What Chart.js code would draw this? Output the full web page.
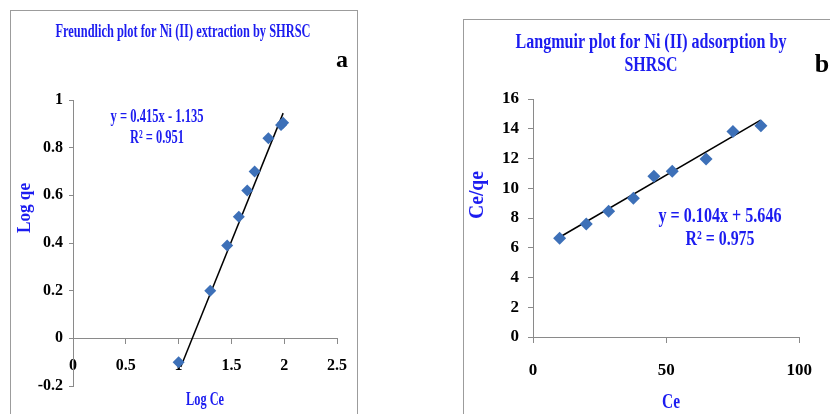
<!DOCTYPE html>
<html>
<head>
<meta charset="utf-8">
<script src="https://cdn.jsdelivr.net/npm/chart.js@4.4.1/dist/chart.umd.min.js"></script>
<style>
  body { margin: 0; background: #fff; width: 830px; height: 414px; overflow: hidden; position: relative; }
  .panel { position: absolute; border: 1px solid #9c9c9c; background: #fff; }
  canvas { position: absolute; top: 0; }
</style>
</head>
<body>
<div class="panel" style="left:10px; top:10px; width:346px; height:420px;"></div>
<div class="panel" style="left:463px; top:19px; width:400px; height:420px;"></div>
<canvas id="freundlichChart" width="360" height="414" style="left:0"></canvas>
<canvas id="langmuirChart" width="370" height="414" style="left:460px"></canvas>
<script>
// Freundlich data (panel a)
const freundLogCe = [1.0, 1.30, 1.46, 1.57, 1.65, 1.72, 1.85, 1.97, 1.99];
const freundLogQe = [-0.10, 0.20, 0.39, 0.51, 0.62, 0.70, 0.84, 0.895, 0.905];
const freundTrendX = [1.02, 1.99];
const freundTrendY = [-0.12, 0.945];

// Langmuir data (panel b)
const langCe = [10, 20, 28.4, 37.7, 45.4, 52.3, 65, 75.1, 85.6];
const langCeQe = [6.64, 7.6, 8.46, 9.33, 10.8, 11.15, 11.96, 13.82, 14.2];
const langTrendX = [9.8, 85.5];
const langTrendY = [6.69, 14.58];

const SERIF = '"Liberation Serif", "Times New Roman", serif';
const BLUE = '#1c1cf0';
const MARKER = '#3d70b8';
const AXIS = '#8a8a8a';

// draws titles, equations and axis names (squeezed to width like the original)
const textLabels = {
    id: 'textLabels',
    afterDraw(chart, args, opts) {
        const ctx = chart.ctx;
        (opts.items || []).forEach(it => {
            ctx.save();
            ctx.font = `bold ${it.size}px ${SERIF}`;
            ctx.fillStyle = it.color || BLUE;
            ctx.textAlign = 'center';
            ctx.textBaseline = 'middle';
            ctx.translate(it.x, it.y);
            if (it.rotate) ctx.rotate(it.rotate);
            if (it.maxWidth) ctx.fillText(it.text, 0, 0, it.maxWidth);
            else ctx.fillText(it.text, 0, 0);
            ctx.restore();
        });
    }
};

function toPoints(xs, ys) {
    return xs.map((x, i) => ({ x: x, y: ys[i] }));
}

// Excel style labels: 1, 0.8, 0, -0.2 ...
function shortNum(value) {
    const v = Math.round(value * 10) / 10;
    return (v === 0 ? 0 : v).toString();
}

function axisStyle(fontSize, tickLength, padding) {
    return {
        grid: { display: true, drawOnChartArea: false, drawTicks: true, tickLength: tickLength, color: AXIS },
        border: { display: true, color: AXIS, width: 1 },
        ticks: { color: '#000', padding: padding, callback: shortNum, font: { family: SERIF, size: fontSize, weight: 'bold' } }
    };
}

function makeChart(canvasId, cfg) {
    const ctx = document.getElementById(canvasId);
    const yStyle = axisStyle(cfg.fontSize, cfg.yTick, cfg.yPad);
    const xStyle = axisStyle(cfg.fontSize, 5, cfg.xPad);
    return new Chart(ctx, {
        type: 'scatter',
        data: {
            datasets: [{
                data: toPoints(cfg.xs, cfg.ys),
                pointStyle: 'rectRot',
                pointRadius: cfg.radius,
                backgroundColor: MARKER,
                borderColor: MARKER,
                borderWidth: 0
            }, {
                type: 'line',
                data: toPoints(cfg.trendX, cfg.trendY),
                borderColor: '#000',
                borderWidth: 1.5,
                pointRadius: 0,
                fill: false
            }]
        },
        options: {
            responsive: false,
            animation: false,
            devicePixelRatio: 1,
            layout: { padding: cfg.padding },
            plugins: {
                legend: { display: false },
                tooltip: { enabled: false },
                textLabels: { items: cfg.labels }
            },
            scales: {
                x: {
                    type: 'linear',
                    position: { y: 0 },
                    min: cfg.xMin, max: cfg.xMax,
                    grid: xStyle.grid, border: xStyle.border,
                    ticks: { ...xStyle.ticks, stepSize: cfg.xStep }
                },
                y: {
                    type: 'linear',
                    position: 'left',
                    min: cfg.yMin, max: cfg.yMax,
                    afterFit: scale => { scale.width = cfg.yWidth; },
                    grid: yStyle.grid, border: yStyle.border,
                    ticks: { ...yStyle.ticks, stepSize: cfg.yStep }
                }
            }
        },
        plugins: [textLabels]
    });
}

makeChart('freundlichChart', {
    xs: freundLogCe, ys: freundLogQe,
    trendX: freundTrendX, trendY: freundTrendY,
    xMin: 0, xMax: 2.5, xStep: 0.5,
    yMin: -0.2, yMax: 1, yStep: 0.2,
    radius: 6, fontSize: 16,
    yTick: 4, yPad: 6, xPad: 13, yWidth: 73,
    padding: { top: 100, bottom: 28, right: 22, left: 0 },
    labels: [
        { text: 'Freundlich plot for Ni (II) extraction by SHRSC', x: 183, y: 32, size: 19, maxWidth: 255 },
        { text: 'a', x: 342, y: 61, size: 24, color: '#000' },
        { text: 'y = 0.415x - 1.135', x: 157, y: 117, size: 19, maxWidth: 93 },
        { text: 'R² = 0.951', x: 157, y: 138, size: 19, maxWidth: 54 },
        { text: 'Log qe', x: 25, y: 208, size: 19, maxWidth: 50, rotate: -Math.PI / 2 },
        { text: 'Log Ce', x: 205, y: 400, size: 19, maxWidth: 38 }
    ]
});

makeChart('langmuirChart', {
    xs: langCe, ys: langCeQe,
    trendX: langTrendX, trendY: langTrendY,
    xMin: 0, xMax: 100, xStep: 50,
    yMin: 0, yMax: 16, yStep: 2,
    radius: 6.5, fontSize: 17,
    yTick: 5, yPad: 9, xPad: 18, yWidth: 73,
    padding: { top: 99, bottom: 77, right: 19, left: 0 },
    labels: [
        { text: 'Langmuir plot for Ni (II) adsorption by', x: 191, y: 43, size: 20, maxWidth: 271 },
        { text: 'SHRSC', x: 191, y: 66, size: 20, maxWidth: 53 },
        { text: 'b', x: 362, y: 65, size: 26, color: '#000' },
        { text: 'y = 0.104x + 5.646', x: 260, y: 217, size: 21, maxWidth: 123 },
        { text: 'R² = 0.975', x: 260, y: 240, size: 21, maxWidth: 69 },
        { text: 'Ce/qe', x: 18, y: 195, size: 20, maxWidth: 48, rotate: -Math.PI / 2 },
        { text: 'Ce', x: 211, y: 403, size: 20, maxWidth: 18 }
    ]
});
</script>
</body>
</html>
